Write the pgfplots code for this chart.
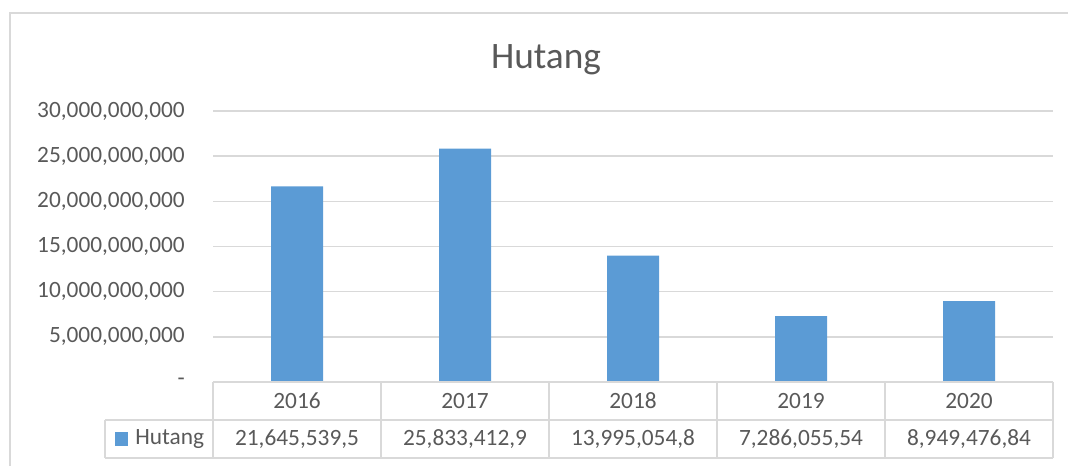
\documentclass[border=0pt]{standalone}
\usepackage{pgfplots}
\pgfplotsset{compat=1.18}
\usepackage{fontspec}
\setmainfont{Carlito}
\definecolor{barblue}{HTML}{5B9BD5}
\definecolor{txtgray}{HTML}{595959}
\definecolor{gridgray}{HTML}{D9D9D9}
\begin{document}
\begin{tikzpicture}[x=0.75pt,y=0.75pt]
\useasboundingbox (0,0) rectangle (1068,-465);
\draw[gridgray, line width=1.1pt] (10,-470) -- (10,-13) -- (1075,-13);
\node[txtgray, font=\fontsize{28}{32}\selectfont] at (546,-60) {Hutang};
\begin{axis}[
  at={(159.75pt,-286.5pt)}, anchor=south west,
  scale only axis, width=630pt, height=203.25pt,
  xmin=-0.5, xmax=4.5, ymin=0, ymax=30e9,
  ybar, bar width=39pt,
  axis line style={draw=none},
  ymajorgrids, grid style={gridgray, line width=1.1pt},
  major tick length=0pt,
  ytick={0,5e9,10e9,15e9,20e9,25e9,30e9},
  yticklabels={{-},{5,000,000,000},{10,000,000,000},{15,000,000,000},{20,000,000,000},{25,000,000,000},{30,000,000,000}},
  yticklabel style={txtgray, font=\fontsize{17.5}{20}\selectfont, inner sep=0pt, anchor=east, xshift=-21pt},
  xtick={0,1,2,3,4}, xticklabels={2016,2017,2018,2019,2020},
  xticklabel style={txtgray, font=\fontsize{17.5}{20}\selectfont, anchor=center, yshift=-14.25pt},
  scaled y ticks=false,
  clip=false,
]
\addplot[fill=barblue, draw=none] coordinates {
  (0,21645539500) (1,25833412900) (2,13995054800) (3,7286055540) (4,8949476840)};
\end{axis}
% data table grid
\draw[gridgray, line width=1.1pt] (213,-382) -- (1053,-382);
\draw[gridgray, line width=1.1pt] (105,-420) -- (1053,-420);
\draw[gridgray, line width=1.1pt] (105,-458) -- (1053,-458);
\draw[gridgray, line width=1.1pt] (105,-420) -- (105,-458);
\foreach \xx in {213,381,549,717,885,1053}
  \draw[gridgray, line width=1.1pt] (\xx,-382) -- (\xx,-458);
\fill[barblue] (115,-432) rectangle (128,-446);
\node[txtgray, font=\fontsize{17.5}{20}\selectfont, anchor=west, inner sep=0pt] at (135,-439) {Hutang};
\node[txtgray, font=\fontsize{17.5}{20}\selectfont] at (297,-439) {21,645,539,5};
\node[txtgray, font=\fontsize{17.5}{20}\selectfont] at (465,-439) {25,833,412,9};
\node[txtgray, font=\fontsize{17.5}{20}\selectfont] at (633,-439) {13,995,054,8};
\node[txtgray, font=\fontsize{17.5}{20}\selectfont] at (801,-439) {7,286,055,54};
\node[txtgray, font=\fontsize{17.5}{20}\selectfont] at (969,-439) {8,949,476,84};
\end{tikzpicture}
\end{document}
